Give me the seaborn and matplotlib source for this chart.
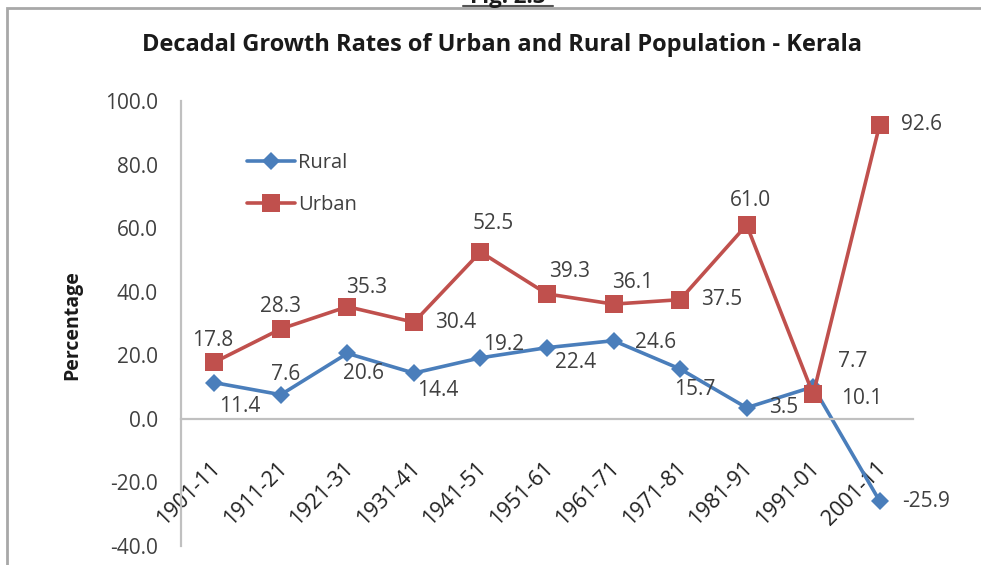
import matplotlib
matplotlib.use("Agg")
import matplotlib.pyplot as plt
from matplotlib.lines import Line2D
from matplotlib.patches import Rectangle
import matplotlib.transforms as mtransforms
import numpy as np
import pandas as pd
import seaborn as sns

# Census decades
periods = ["1901-11", "1911-21", "1921-31", "1931-41", "1941-51", "1951-61",
           "1961-71", "1971-81", "1981-91", "1991-01", "2001-11"]

# Decadal growth rates (%)
rural = [11.4, 7.6, 20.6, 14.4, 19.2, 22.4, 24.6, 15.7, 3.5, 10.1, -25.9]
urban = [17.8, 28.3, 35.3, 30.4, 52.5, 39.3, 36.1, 37.5, 61.0, 7.7, 92.6]

y_ticks = [-40, -20, 0, 20, 40, 60, 80, 100]

# Label offsets (pixels) for each data label
rural_offsets = [(25, -24), (5, 20), (16, -20), (24, -17), (23, 13), (29, -15),
                 (42, -2), (15, -21), (37, 0), (49, -12), (46, 0)]
urban_offsets = [(-2, 22), (0, 22), (19, 19), (42, 0), (13, 28), (23, 22),
                 (19, 22), (42, 0), (4, 24), (40, 33), (42, 0)]

BLUE = "#4A7EBB"
RED = "#C0504D"
TXT = "#404040"
GRID = "#C0C0C0"

sns.set_theme(style="white")
plt.rcParams["font.family"] = ["Open Sans", "DejaVu Sans"]

W, H = 981, 565
fig = plt.figure(figsize=(W / 100, H / 100), dpi=100)
fig.patch.set_facecolor("white")

left, right, top, bottom = 181, 913, 101, 546
ax = fig.add_axes([left / W, 1 - bottom / H, (right - left) / W, (bottom - top) / H])

df = pd.DataFrame({"Period": periods * 2,
                   "Rate": rural + urban,
                   "Area": ["Rural"] * len(periods) + ["Urban"] * len(periods)})

sns.lineplot(data=df[df.Area == "Rural"], x="Period", y="Rate", ax=ax,
             color=BLUE, lw=2.6, marker="D", markersize=9.5,
             markeredgewidth=0, label="Rural", sort=False)
sns.lineplot(data=df[df.Area == "Urban"], x="Period", y="Rate", ax=ax,
             color=RED, lw=2.6, marker="s", markersize=12.5,
             markeredgewidth=0, label="Urban", sort=False)

ax.set_xlim(-0.5, len(periods) - 0.5)
ax.set_ylim(-40, 100)
ax.set_yticks(y_ticks)
ax.set_yticklabels([f"{v:.1f}" for v in y_ticks])
ax.set_xlabel("")
ax.set_ylabel("")

for s in ["top", "right"]:
    ax.spines[s].set_visible(False)
ax.spines["bottom"].set_position(("data", 0))
for s in ["left", "bottom"]:
    ax.spines[s].set_color(GRID)
    ax.spines[s].set_linewidth(1.6)

ax.tick_params(axis="y", length=0, pad=16.5, labelsize=15, labelcolor=TXT)
ax.tick_params(axis="x", length=0, pad=0, labelsize=15.5, labelcolor="#202020")
shift = mtransforms.ScaledTranslation(0.03, -0.46, fig.dpi_scale_trans)
for lab in ax.get_xticklabels():
    lab.set_rotation(45)
    lab.set_ha("right")
    lab.set_va("center")
    lab.set_rotation_mode("anchor")
    lab.set_transform(lab.get_transform() + shift)

# Data labels
for series, offs in ((rural, rural_offsets), (urban, urban_offsets)):
    for p, v, (dx, dy) in zip(periods, series, offs):
        ax.annotate(f"{v:.1f}", xy=(p, v), xytext=(dx, dy),
                    textcoords="offset pixels", ha="center", va="center",
                    fontsize=15, color=TXT)

leg = ax.legend(loc="upper left", bbox_to_anchor=(58 / (right - left), 1 - 44 / (bottom - top)),
                frameon=False, fontsize=14.5, handlelength=2.4, handletextpad=0.15,
                labelspacing=1.1, borderaxespad=0)
for t in leg.get_texts():
    t.set_color(TXT)

fig.text(502 / W, 1 - 45 / H, "Decadal Growth Rates of Urban and Rural Population - Kerala",
         ha="center", va="center", fontsize=17, fontweight="bold", color="#1A1A1A")
fig.text(72 / W, 1 - 325 / H, "Percentage", rotation=90, ha="center", va="center",
         fontsize=14, fontweight="bold", color="#1A1A1A")

# Figure caption above the chart frame
fig.text(508 / W, 1 - 3 / H, "Fig. 2.3", ha="center", va="baseline",
         fontsize=16, fontweight="bold", color="#1A1A1A")
fig.add_artist(Line2D([463 / W, 553 / W], [1 - 6 / H, 1 - 6 / H],
                      transform=fig.transFigure, color="#555555", lw=1.5))

# Chart frame
fig.add_artist(Rectangle((7 / W, -0.2), 1.5, 1.2 - 8 / H, transform=fig.transFigure,
                         fill=False, edgecolor="#A8A8A8", lw=2))

fig.savefig("out.png", dpi=100)
